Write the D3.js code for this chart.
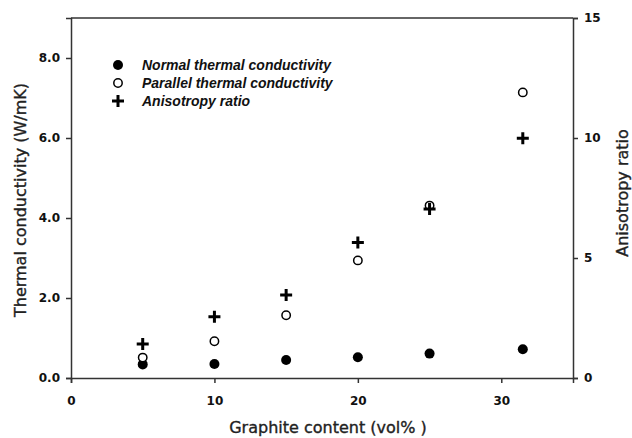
<!DOCTYPE html>
<html>
<head>
<meta charset="utf-8">
<script src="https://cdn.jsdelivr.net/npm/d3@7"></script>
<style>
	body { margin: 0; background: #fff; }
	svg { display: block; font-family: "DejaVu Sans", sans-serif; }
	.axis path, .axis line { stroke: #333; stroke-width: 1.5; }
	.axis text { font-family: "DejaVu Sans", sans-serif; font-size: 12px; font-weight: bold; fill: #111; }
	.title { font-size: 16px; fill: #222; stroke: #222; stroke-width: 0.35; }
</style>
</head>
<body>
<svg id="chart" width="632" height="438"></svg>
<script>
	// graphite content (vol%)
	var content = [5, 10, 15, 20, 25, 31.5];
	// thermal conductivity (W/mK)
	var normalK = [0.34, 0.35, 0.45, 0.52, 0.61, 0.72];
	var parallelK = [0.51, 0.92, 1.57, 2.94, 4.31, 7.14];
	// anisotropy ratio (right axis)
	var ratio = [1.42, 2.55, 3.46, 5.65, 7.04, 9.99];

	var leftTicks = [0, 2, 4, 6, 8];
	var rightTicks = [0, 5, 10, 15];
	var xTicks = [0, 10, 20, 30];
	var legendLabels = ["Normal thermal conductivity", "Parallel thermal conductivity", "Anisotropy ratio"];

	var m = {top: 18, right: 59, bottom: 60, left: 71};
	var svg = d3.select("#chart");
	var width = 632 - m.left - m.right;
	var height = 438 - m.top - m.bottom;

	var x = d3.scaleLinear().domain([0, 35]).range([0, width]);
	var yL = d3.scaleLinear().domain([0, 9]).range([height, 0]);
	var yR = d3.scaleLinear().domain([0, 15]).range([height, 0]);

	var g = svg.append("g").attr("transform", "translate(" + m.left + "," + m.top + ")");

	// top frame line
	g.append("line")
		.attr("x1", 0).attr("x2", width)
		.attr("y1", 0).attr("y2", 0)
		.attr("stroke", "#333").attr("stroke-width", 1.5);

	g.append("g").attr("class", "axis")
		.attr("transform", "translate(0," + height + ")")
		.call(d3.axisBottom(x).tickValues(xTicks).tickSizeOuter(0).tickSize(5).tickPadding(13).tickFormat(d3.format("d")));
	g.append("g").attr("class", "axis")
		.call(d3.axisLeft(yL).tickValues(leftTicks).tickSizeOuter(0).tickSize(5).tickPadding(6).tickFormat(d3.format(".1f")));
	g.append("g").attr("class", "axis")
		.attr("transform", "translate(" + width + ",0)")
		.call(d3.axisRight(yR).tickValues(rightTicks).tickSizeOuter(0).tickSize(5).tickPadding(6).tickFormat(d3.format("d")));

	// axis titles
	svg.append("text").attr("class", "title")
		.attr("x", 328).attr("y", 433)
		.attr("text-anchor", "middle")
		.text("Graphite content (vol% )");
	svg.append("text").attr("class", "title")
		.attr("transform", "translate(26,200) rotate(-90)")
		.attr("text-anchor", "middle")
		.text("Thermal conductivity (W/mK)");
	svg.append("text").attr("class", "title")
		.attr("transform", "translate(628,193) rotate(-90)")
		.attr("text-anchor", "middle")
		.text("Anisotropy ratio");

	function drawPoint(sel, kind){
		if(kind == 0){
			sel.append("circle").attr("r", 5).attr("fill", "#000");
		}else if(kind == 1){
			sel.append("circle").attr("r", 4.2).attr("fill", "#fff").attr("stroke", "#000").attr("stroke-width", 1.5);
		}else{
			sel.append("path").attr("d", "M-6,0H6M0,-6V6").attr("stroke", "#000").attr("stroke-width", 3).attr("fill", "none");
		}
	}

	// data points
	var series = [
		{ values: normalK, scale: yL },
		{ values: parallelK, scale: yL },
		{ values: ratio, scale: yR }
	];
	series.forEach(function(s, k){
		g.append("g").selectAll("g")
			.data(content)
			.enter().append("g")
			.attr("transform", function(d, i){ return "translate(" + x(d) + "," + s.scale(s.values[i]) + ")"; })
			.each(function(){ drawPoint(d3.select(this), k); });
	});

	// legend
	var legend = svg.append("g").attr("transform", "translate(118,65)");
	legendLabels.forEach(function(label, k){
		var row = legend.append("g").attr("transform", "translate(0," + k * 18 + ")");
		drawPoint(row.append("g"), k);
		row.append("text")
			.attr("x", 24).attr("y", 5)
			.attr("font-family", "'Liberation Sans', Arial, sans-serif")
			.attr("font-size", "14px").attr("font-weight", "bold").attr("font-style", "italic").attr("fill", "#111")
			.text(label);
	});
</script>
</body>
</html>
